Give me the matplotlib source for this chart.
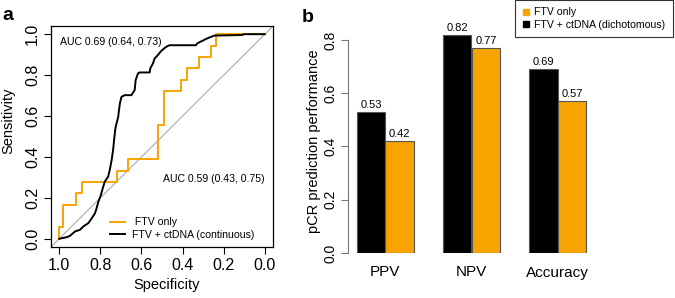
import matplotlib
matplotlib.use("Agg")
import matplotlib.pyplot as plt
from matplotlib.lines import Line2D

plt.rcParams['font.family'] = ['Liberation Sans', 'DejaVu Sans']

ORANGE = '#F8A400'

# ROC curve, FTV only (specificity, sensitivity)
ftv_spec = [1.0, 1.0, 0.98, 0.98, 0.92, 0.92, 0.89, 0.89, 0.72, 0.72, 0.665, 0.665,
            0.52, 0.52, 0.49, 0.49, 0.41, 0.41, 0.38, 0.38, 0.32, 0.32, 0.26, 0.26,
            0.235, 0.235, 0.0]
ftv_sens = [0.0, 0.056, 0.056, 0.167, 0.167, 0.222, 0.222, 0.278, 0.278, 0.333, 0.333, 0.389,
            0.389, 0.556, 0.556, 0.722, 0.722, 0.778, 0.778, 0.833, 0.833, 0.889, 0.889, 0.944,
            0.944, 1.0, 1.0]

# ROC curve, FTV + ctDNA (continuous)
ct_spec = [1.0, 0.987, 0.963, 0.947, 0.923, 0.899, 0.883, 0.858, 0.842, 0.826, 0.818,
           0.81, 0.797, 0.786, 0.778, 0.762, 0.754, 0.745, 0.738, 0.733, 0.728, 0.725,
           0.713, 0.705, 0.697, 0.681, 0.649, 0.633, 0.628, 0.617, 0.609, 0.56, 0.557,
           0.544, 0.536, 0.52, 0.504, 0.48, 0.464, 0.335, 0.327, 0.311, 0.295, 0.279,
           0.246, 0.11, 0.101, 0.015, 0.0]
ct_sens = [0.0, 0.003, 0.008, 0.015, 0.036, 0.044, 0.06, 0.077, 0.10, 0.125, 0.15,
           0.18, 0.215, 0.255, 0.28, 0.304, 0.337, 0.385, 0.434, 0.483, 0.53, 0.548,
           0.597, 0.662, 0.694, 0.702, 0.702, 0.727, 0.776, 0.808, 0.813, 0.813, 0.833,
           0.857, 0.881, 0.898, 0.918, 0.938, 0.946, 0.946, 0.956, 0.964, 0.972, 0.98,
           0.993, 0.996, 1.0, 1.0, 1.0]

# bar chart
metrics = ['PPV', 'NPV', 'Accuracy']
ftv_ctdna = [0.53, 0.82, 0.69]
ftv_only = [0.42, 0.77, 0.57]

fig = plt.figure(figsize=(6.75, 2.98), dpi=100)

# ---- panel a ----
ax = fig.add_axes([51/675, 1-247/298, 222/675, 221/298])
ax.axline((1, 0), (0, 1), color='#aaaaaa', lw=0.8, zorder=1)
ax.plot(ftv_spec, ftv_sens, color=ORANGE, lw=1.4, zorder=2)
ax.plot(ct_spec, ct_sens, color='black', lw=1.4, zorder=3)
ax.set_xlim(1.04, -0.04)
ax.set_ylim(-0.04, 1.04)
ticks = [1.0, 0.8, 0.6, 0.4, 0.2, 0.0]
ax.set_xticks(ticks)
ax.set_yticks(ticks[::-1])
ax.set_xticklabels(['%.1f' % t for t in ticks])
ax.set_yticklabels(['%.1f' % t for t in ticks[::-1]])
ax.tick_params(labelsize=11.5, length=5, width=0.8, pad=3)
plt.setp(ax.get_yticklabels(), rotation=90, va='center')
for s in ax.spines.values():
    s.set_linewidth(0.9)
ax.set_xlabel('Specificity', fontsize=10.5)
ax.set_ylabel('Sensitivity', fontsize=10.5)
ax.xaxis.set_label_coords(0.52, -0.14)
ax.yaxis.set_label_coords(-0.16, 0.57)
ax.text(0.995, 0.96, 'AUC 0.69 (0.64, 0.73)', fontsize=7.6, va='center', ha='left')
ax.text(0.497, 0.29, 'AUC 0.59 (0.43, 0.75)', fontsize=7.6, va='center', ha='left')
handles = [Line2D([], [], color=ORANGE, lw=1.4), Line2D([], [], color='black', lw=1.4)]
ax.legend(handles, [' FTV only', 'FTV + ctDNA (continuous)'], frameon=False,
          fontsize=7.6, loc='lower left', bbox_to_anchor=(0.24, 0.01),
          borderpad=0, handlelength=1.5, handletextpad=0.6, labelspacing=0.2)

# ---- panel b ----
bx = fig.add_axes([347.5/675, 1-253/298, 248/675, 229/298])
starts = [1 + 3*i for i in range(len(metrics))]
b1 = bx.bar(starts, ftv_ctdna, width=1, align='edge', color='black',
            edgecolor='#555555', lw=0.8)
b2 = bx.bar([s + 1 for s in starts], ftv_only, width=1, align='edge', color=ORANGE,
            edgecolor='#555555', lw=0.8)
for bars, vals in [(b1, ftv_ctdna), (b2, ftv_only)]:
    for rect, v in zip(bars, vals):
        bx.annotate('%.2f' % v, (rect.get_x() + 0.5, v), xytext=(0, 1.5),
                    textcoords='offset points', ha='center', va='bottom', fontsize=8)
bx.set_xlim(0.68, 9.32)
bx.set_ylim(0, 0.86)
bx.set_xticks([s + 1 for s in starts])
bx.set_xticklabels(metrics, fontsize=11)
bx.tick_params(axis='x', length=0, pad=9)
bx.set_yticks([0, 0.2, 0.4, 0.6, 0.8])
bx.set_yticklabels(['0.0', '0.2', '0.4', '0.6', '0.8'])
bx.tick_params(axis='y', labelsize=10, length=5, width=0.8, color='#777777', pad=2)
plt.setp(bx.get_yticklabels(), rotation=90, va='center')
for side in ['top', 'right', 'bottom']:
    bx.spines[side].set_visible(False)
bx.spines['left'].set_bounds(0, 0.8)
bx.spines['left'].set_color('#777777')
bx.spines['left'].set_linewidth(0.8)
bx.set_ylabel('pCR prediction performance', fontsize=10.5)
bx.yaxis.set_label_coords(-0.105, 0.49)

lh = [Line2D([], [], ls='none', marker='s', markersize=4, color=ORANGE),
      Line2D([], [], ls='none', marker='s', markersize=4, color='black')]
leg = fig.legend(lh, ['FTV only', 'FTV + ctDNA (dichotomous)'], loc='upper right',
                 bbox_to_anchor=(673/675, 1.0), fontsize=7.6, fancybox=False,
                 framealpha=1, edgecolor='#333333', borderpad=0.7, handlelength=0.6,
                 handletextpad=0.5, labelspacing=0.25, borderaxespad=0)
leg.get_frame().set_linewidth(0.8)

fig.text(8/675, 1-16/298, 'a', fontsize=14, fontweight='bold', ha='center', va='center')
fig.text(308/675, 1-17/298, 'b', fontsize=14, fontweight='bold', ha='center', va='center')

fig.savefig('out.png', dpi=100)
